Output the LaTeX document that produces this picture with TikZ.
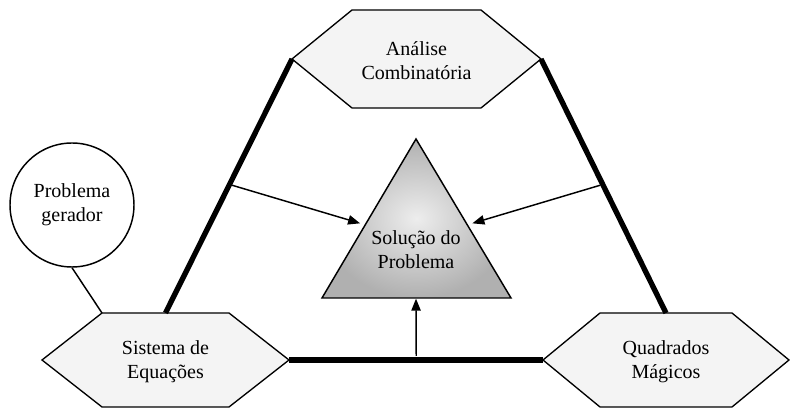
\documentclass[tikz,border=0pt]{standalone}
\usepackage{fontspec}
\setmainfont{Liberation Serif}
\usetikzlibrary{arrows.meta,calc}
\begin{document}
\begin{tikzpicture}[x=0.75pt,y=-0.75pt,
  hexa/.style={draw=black, line width=1pt, fill=gray!9, line join=miter},
  lbl/.style={align=center, font=\fontsize{15}{18}\selectfont, inner sep=0pt},
  thick line/.style={line width=4pt, line cap=butt},
  conn/.style={line width=1.1pt},
  arr/.style={line width=1.1pt, -{Triangle[length=9pt,width=7pt]}},
  tri/.style={draw=black, line width=1.1pt, line join=miter, inner color=gray!14, outer color=gray!62}
]
\useasboundingbox (0,0) rectangle (790,409);

% hexagon: Analise Combinatoria
\coordinate (acC) at (416.5,59);
\draw[hexa] (acC) ++(-124.5,0) coordinate (acW) -- ++(60,-49) -- ++(129,0) -- ++(60,49) coordinate (acE) -- ++(-60,49) -- ++(-129,0) -- cycle;
\node[lbl] (ac) at ($(acC)+(0,2)$) {Análise\\Combinatória};

% hexagon: Sistema de Equacoes
\coordinate (seC) at (165.5,360);
\draw[hexa] (seC) ++(-123.5,0) coordinate (seW) -- ++(60,-47) coordinate (seNW) -- ++(63.5,0) coordinate (seN) -- ++(63.5,0) -- ++(60,47) coordinate (seE) -- ++(-60,47) -- ++(-127,0) -- cycle;
\node[lbl] (se) at ($(seC)+(0,2)$) {Sistema de\\Equações};

% hexagon: Quadrados Magicos
\coordinate (qmC) at (666,360);
\draw[hexa] (qmC) ++(-123,0) coordinate (qmW) -- ++(57,-47) -- ++(66,0) coordinate (qmN) -- ++(66,0) -- ++(57,47) coordinate (qmE) -- ++(-57,47) -- ++(-132,0) -- cycle;
\node[lbl] (qm) at ($(qmC)+(0,2)$) {Quadrados\\Mágicos};

% triangle: Solucao do Problema
\coordinate (triT) at (416,139);
\coordinate (triR) at (511,298);
\coordinate (triL) at (322,298);
\coordinate (triB) at (416,298);
\shade[tri] (triT) -- (triR) -- (triL) -- cycle;
\node[lbl] (sp) at (416,250) {Solução do\\Problema};

% circle: Problema gerador
\node[draw=black, line width=1.1pt, circle, fill=white, minimum size=93pt, lbl, font=\fontsize{15}{18}\selectfont] (pg) at (72,205) {Problema\\gerador};

% thick frame
\draw[thick line] (acW) -- (seN);
\draw[thick line] (acE) -- (qmN);
\draw[thick line] (seE) -- (qmW);

% connector circle -> hexagon
\draw[conn] (pg.south) -- (seNW);

% arrows
\coordinate (la) at ($(acW)!0.494!(seN)$);
\coordinate (ra) at ($(acE)!0.494!(qmN)$);
\coordinate (ba) at ($(seE)!0.501!(qmW)$);
\draw[arr, shorten <=2pt, shorten >=4pt] (la) -- ($(triL)!0.46!(triT)$);
\draw[arr, shorten <=2pt, shorten >=4pt] (ra) -- ($(triR)!0.46!(triT)$);
\draw[arr, shorten <=3pt, shorten >=0.5pt] (ba) -- (triB);
\end{tikzpicture}
\end{document}
